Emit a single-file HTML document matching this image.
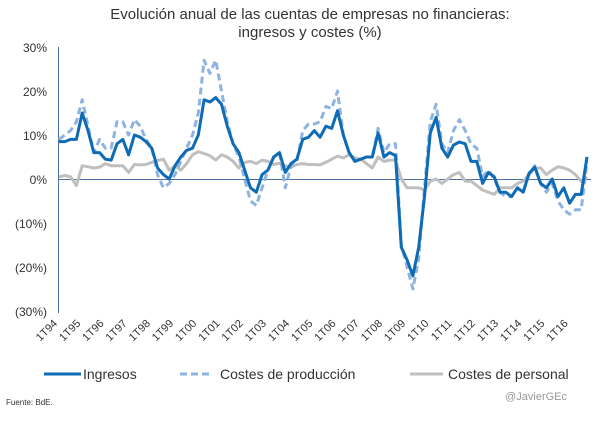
<!DOCTYPE html>
<html><head><meta charset="utf-8">
<style>
body{margin:0;background:#fff;}
svg text{font-family:"Liberation Sans",sans-serif;}
</style></head>
<body>
<svg id="chart" width="606" height="416" viewBox="0 0 606 416" xmlns="http://www.w3.org/2000/svg">
<text x="310" y="19" text-anchor="middle" font-size="15" fill="#333">Evolución anual de las cuentas de empresas no financieras:</text>
<text x="310" y="37" text-anchor="middle" font-size="15" fill="#333">ingresos y costes (%)</text>
<g id="yticks"></g>
<g id="xticks"></g>
<line x1="58.5" y1="47" x2="58.5" y2="313" stroke="#4a6fa0" stroke-width="1"/>
<g id="series"></g>
<g>
<line x1="44" y1="374" x2="81" y2="374" stroke="#0e6bb5" stroke-width="3"/>
<text x="83" y="379" font-size="14" fill="#333">Ingresos</text>
<line x1="180" y1="374" x2="213" y2="374" stroke="#8fb3e0" stroke-width="3" stroke-dasharray="7,4"/>
<text x="220" y="379" font-size="14" fill="#333">Costes de producción</text>
<line x1="410" y1="374" x2="443" y2="374" stroke="#bfbfbf" stroke-width="3"/>
<text x="448" y="379" font-size="14" fill="#333">Costes de personal</text>
</g>
<text x="567" y="400" text-anchor="end" font-size="11" fill="#999">@JavierGEc</text>
<text x="6" y="405" font-size="8" fill="#333">Fuente: BdE.</text>
</svg>
<script>
const yTicks = [30,20,10,0,-10,-20,-30];
const yearLabels = ["1T94","1T95","1T96","1T97","1T98","1T99","1T00","1T01","1T02","1T03","1T04","1T05","1T06","1T07","1T08","1T09","1T10","1T11","1T12","1T13","1T14","1T15","1T16"];
const ingresos = [8.5,8.5,9,9,15,11,6,6,4.5,4.3,8,9,5.5,10,9.5,8.5,7,2.5,1,0,3,5,6.5,7,10,18,17.5,18.5,17,12,8,6,2,-2,-3,1,2,5,6,1.5,3.5,4.5,9,9.5,11,9.5,12,11.5,15.5,10,6,4,4.5,5,5,10.5,5,6,5.3,-15.5,-18.4,-22,-15.5,-4,10.5,14,7,5,7.7,8.4,8,4,4,-1,1.5,0.5,-3,-3,-4,-2,-3,1.3,2.7,-1,-2,0,-4,-2,-5.5,-3.5,-3.5,5];
const produccion = [9,10,11,13,18,12,6,9,7,7,13,13,10,13.5,12,9,7,1,-2,-1,1,4,7,10,15,27,24,27,20,13,8,5,0,-5,-6,-2,2,5,6,-2,3,4,11,12.5,12.5,13,16.5,16,20,10,6,4,4.5,5,5,11.5,6,8,8,-15,-20,-25,-18,-2,13,17,8,6,11,13.5,11,8,7,0.5,2,0,-3,-4,-4,-2,-3,1,3,-1,-3,-1,-5,-7,-8,-7,-7,4];
const personal = [0.5,0.8,0.5,-1.5,3,2.8,2.5,2.7,3.5,3,3,3,1.5,3.3,3.2,3.3,3.8,4.2,4.5,2,3,2,3.5,5.5,6.2,5.8,5.3,4.3,5.5,5,4,2.5,3.8,4,3.5,4.3,4,3.3,3.6,3,2.7,3.3,3.5,3.3,3.3,3.2,3.8,4.5,5.2,4.8,5.5,4.8,4.5,3.5,2.5,5,4,4.3,4.3,0,-2,-2,-2,-2.5,-0.5,0,-1,0,1,1.5,-0.5,-0.5,-1.5,-2.5,-3,-3.5,-2,-2,-2,-1,-0.5,1,2.5,2.5,1,2,2.8,2.5,2,1,-0.5,0.5];

const NS="http://www.w3.org/2000/svg";
const X0=59, X1=587, N=ingresos.length;
function xs(i){return X0+(X1-X0)*i/(N-1);}
function ys(v){return 179-v*4.4;}
function mk(tag,attrs,parent){const e=document.createElementNS(NS,tag);for(const k in attrs)e.setAttribute(k,attrs[k]);parent.appendChild(e);return e;}

const yg=document.getElementById('yticks');
yTicks.forEach(v=>{
  const t=mk('text',{x:47,y:ys(v)+5,'text-anchor':'end','font-size':'12',fill:'#333'},yg);
  
  
  t.textContent=v<0?'('+(-v)+'%)':v+'%';
});
const zl=mk('line',{x1:X0,y1:ys(0)+0.5,x2:X1+4,y2:ys(0)+0.5,stroke:'#4a6fa0','stroke-width':1},yg);



const xg=document.getElementById('xticks');
yearLabels.forEach((lab,k)=>{
  const x=xs(k*4)-1, y=324;
  const t=mk('text',{x:x,y:y,'text-anchor':'end','font-size':'11',fill:'#333',transform:'rotate(-45 '+x+' '+y+')'},xg);
  
  
  t.textContent=lab;
});

const sg=document.getElementById('series');
function line(data,color,w,dash,name){
  const d=data.map((v,i)=>(i?'L':'M')+xs(i).toFixed(1)+','+ys(v).toFixed(1)).join(' ');
  const p=mk('path',{d:d,fill:'none',stroke:color,'stroke-width':w,'stroke-linejoin':'round'},sg);
  if(dash)p.setAttribute('stroke-dasharray',dash);
  
  
}
line(personal,'#bfbfbf',3,null,'series-costes-personal');
line(produccion,'#8fb3e0',3,'7,4','series-costes-produccion');
line(ingresos,'#0e6bb5',3,null,'series-ingresos');
</script>
</body></html>
